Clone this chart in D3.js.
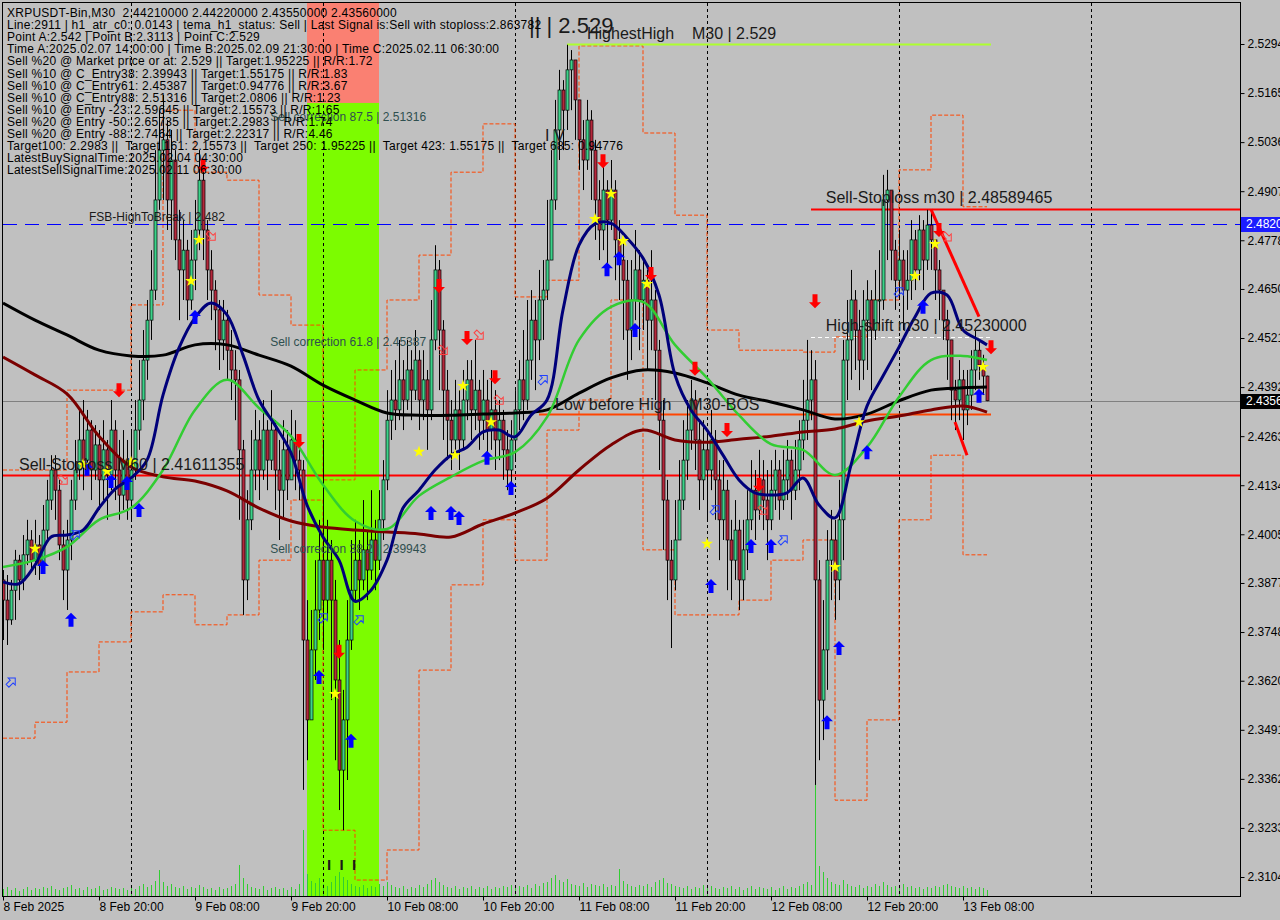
<!DOCTYPE html>
<html>
<head>
<meta charset="utf-8">
<script src="https://cdn.jsdelivr.net/npm/d3@7/dist/d3.min.js"></script>
<style>
  body { margin: 0; background: #c0c0c0; overflow: hidden; }
  svg { display: block; font-family: "Liberation Sans", Arial, sans-serif; }
  svg text { white-space: pre; }
</style>
</head>
<body>
<svg id="chart" width="1280" height="920"></svg>
<script>
// ---------- data (XRPUSDT M30, bars from 8 Feb 08:00) ----------
const closes = [
  2.3832,2.3780,2.3858,2.3937,2.3885,2.3951,2.3990,2.3937,2.3977,2.3924,
  2.4016,2.4095,2.4174,2.4121,2.3977,2.3911,2.3990,2.4095,2.4174,2.4253,
  2.4200,2.4279,2.4174,2.4240,2.4148,2.4227,2.4161,2.4279,2.4174,2.4108,
  2.4200,2.4095,2.4174,2.4279,2.4358,2.4463,2.4568,2.4647,2.4884,2.5015,
  2.5042,2.4884,2.4989,2.4779,2.4700,2.4752,2.4621,2.4726,2.4805,2.4936,
  2.4805,2.4700,2.4647,2.4595,2.4516,2.4568,2.4489,2.4437,2.4411,2.4227,
  2.3885,2.4043,2.4174,2.4253,2.4174,2.4279,2.4200,2.4279,2.4174,2.4121,
  2.4227,2.4148,2.4253,2.4200,2.4174,2.3727,2.3517,2.3701,2.3806,2.3937,
  2.3832,2.3937,2.3832,2.3622,2.3385,2.3517,2.3727,2.3858,2.3937,2.3885,
  2.3964,2.3911,2.3990,2.3937,2.4043,2.4148,2.4305,2.4358,2.4332,2.4411,
  2.4358,2.4437,2.4384,2.4463,2.4358,2.4411,2.4332,2.4516,2.4700,2.4542,
  2.4384,2.4305,2.4253,2.4332,2.4253,2.4358,2.4411,2.4332,2.4384,2.4305,
  2.4358,2.4279,2.4332,2.4253,2.4305,2.4227,2.4174,2.4253,2.4332,2.4411,
  2.4358,2.4463,2.4568,2.4516,2.4621,2.4647,2.4726,2.4884,2.5068,2.5173,
  2.5120,2.5226,2.5252,2.5147,2.5042,2.4989,2.5094,2.5015,2.4884,2.4805,
  2.4910,2.4831,2.4910,2.4779,2.4726,2.4673,2.4542,2.4621,2.4700,2.4621,
  2.4673,2.4568,2.4621,2.4489,2.4305,2.4095,2.3937,2.3885,2.3990,2.4095,
  2.4200,2.4279,2.4358,2.4253,2.4148,2.4227,2.4174,2.4253,2.4148,2.4043,
  2.4121,2.3990,2.3937,2.4016,2.3885,2.3964,2.4043,2.4121,2.4069,2.4148,
  2.4095,2.4043,2.4121,2.4174,2.4095,2.4148,2.4200,2.4121,2.4174,2.4253,
  2.4305,2.4358,2.4411,2.3885,2.3569,2.3701,2.3937,2.3990,2.3885,2.4043,
  2.4463,2.4516,2.4621,2.4542,2.4463,2.4568,2.4621,2.4542,2.4621,2.4621,
  2.4884,2.4910,2.4752,2.4673,2.4726,2.4647,2.4673,2.4779,2.4700,2.4805,
  2.4726,2.4818,2.4779,2.4700,2.4647,2.4568,2.4516,2.4384,2.4358,2.4411,
  2.4332,2.4371,2.4437,2.4489,2.4450,2.4421,2.4356
];
const highs = [
  2.3911,2.3898,2.3885,2.3964,2.3951,2.4003,2.4043,2.4016,2.4043,2.4003,
  2.4082,2.4148,2.4213,2.4213,2.4148,2.4016,2.4043,2.4148,2.4253,2.4332,
  2.4358,2.4332,2.4305,2.4292,2.4279,2.4305,2.4253,2.4358,2.4305,2.4253,
  2.4279,2.4253,2.4279,2.4358,2.4463,2.4542,2.4621,2.4752,2.5015,2.5120,
  2.5160,2.5094,2.5068,2.5015,2.4858,2.4831,2.4779,2.4805,2.4884,2.5015,
  2.4976,2.4831,2.4752,2.4673,2.4621,2.4621,2.4595,2.4542,2.4489,2.4437,
  2.4253,2.4121,2.4279,2.4332,2.4305,2.4358,2.4305,2.4384,2.4305,2.4253,
  2.4305,2.4279,2.4332,2.4305,2.4253,2.4200,2.3832,2.3806,2.3937,2.4043,
  2.4253,2.4043,2.3990,2.3885,2.3727,2.3596,2.3832,2.3990,2.4043,2.3990,
  2.4095,2.4016,2.4121,2.4043,2.4121,2.4200,2.4384,2.4437,2.4463,2.4516,
  2.4463,2.4516,2.4489,2.4542,2.4489,2.4489,2.4437,2.4621,2.4765,2.4726,
  2.4568,2.4437,2.4358,2.4411,2.4384,2.4437,2.4463,2.4463,2.4516,2.4411,
  2.4437,2.4411,2.4437,2.4384,2.4358,2.4332,2.4279,2.4305,2.4384,2.4463,
  2.4542,2.4621,2.4647,2.4621,2.4700,2.4726,2.4884,2.5015,2.5147,2.5226,
  2.5199,2.5292,2.5278,2.5226,2.5120,2.5094,2.5147,2.5120,2.5042,2.4936,
  2.4989,2.4936,2.4989,2.4936,2.4831,2.4779,2.4726,2.4726,2.4805,2.4752,
  2.4726,2.4700,2.4752,2.4647,2.4516,2.4358,2.4148,2.3990,2.4095,2.4200,
  2.4305,2.4358,2.4411,2.4384,2.4305,2.4305,2.4279,2.4332,2.4279,2.4200,
  2.4200,2.4148,2.4043,2.4095,2.4043,2.4043,2.4121,2.4200,2.4174,2.4227,
  2.4200,2.4174,2.4200,2.4227,2.4200,2.4227,2.4253,2.4227,2.4253,2.4305,
  2.4411,2.4516,2.4489,2.4463,2.3937,2.3832,2.4016,2.4069,2.4043,2.4148,
  2.4516,2.4621,2.4700,2.4647,2.4595,2.4647,2.4673,2.4647,2.4700,2.4752,
  2.4950,2.4963,2.4884,2.4779,2.4805,2.4752,2.4752,2.4831,2.4805,2.4844,
  2.4831,2.4858,2.4853,2.4779,2.4726,2.4647,2.4595,2.4516,2.4411,2.4463,
  2.4437,2.4437,2.4489,2.4542,2.4516,2.4477,2.4422
];
const lows = [
  2.3727,2.3714,2.3767,2.3780,2.3832,2.3858,2.3924,2.3911,2.3898,2.3885,
  2.3911,2.3990,2.4069,2.4043,2.3937,2.3832,2.3806,2.3937,2.4069,2.4148,
  2.4121,2.4174,2.4095,2.4148,2.4069,2.4095,2.4043,2.4121,2.4095,2.4043,
  2.4069,2.4043,2.4043,2.4148,2.4227,2.4305,2.4411,2.4516,2.4621,2.4858,
  2.4884,2.4805,2.4779,2.4726,2.4568,2.4621,2.4568,2.4595,2.4647,2.4752,
  2.4726,2.4621,2.4568,2.4489,2.4437,2.4463,2.4411,2.4358,2.4305,2.4043,
  2.3793,2.3832,2.4016,2.4121,2.4095,2.4148,2.4121,2.4174,2.4069,2.3990,
  2.4043,2.4095,2.4148,2.4121,2.4095,2.3333,2.3411,2.3517,2.3622,2.3727,
  2.3701,2.3780,2.3569,2.3411,2.3280,2.3227,2.3359,2.3701,2.3832,2.3806,
  2.3858,2.3832,2.3885,2.3858,2.3911,2.3990,2.4121,2.4253,2.4279,2.4305,
  2.4279,2.4332,2.4305,2.4358,2.4279,2.4305,2.4227,2.4305,2.4489,2.4384,
  2.4253,2.4200,2.4174,2.4227,2.4174,2.4227,2.4305,2.4253,2.4279,2.4227,
  2.4253,2.4200,2.4227,2.4174,2.4200,2.4148,2.4121,2.4121,2.4200,2.4279,
  2.4305,2.4332,2.4411,2.4384,2.4463,2.4516,2.4621,2.4779,2.4858,2.4989,
  2.5015,2.5068,2.5120,2.5042,2.4963,2.4910,2.4963,2.4884,2.4779,2.4726,
  2.4752,2.4700,2.4805,2.4673,2.4621,2.4516,2.4411,2.4463,2.4568,2.4489,
  2.4542,2.4437,2.4489,2.4358,2.4174,2.3964,2.3832,2.3706,2.3858,2.3990,
  2.4069,2.4148,2.4227,2.4174,2.4069,2.4095,2.4043,2.4121,2.4043,2.3937,
  2.3990,2.3858,2.3832,2.3885,2.3806,2.3832,2.3911,2.4016,2.3990,2.4043,
  2.4016,2.3937,2.4016,2.4069,2.4043,2.4069,2.4095,2.4043,2.4095,2.4121,
  2.4200,2.4253,2.4305,2.3346,2.3411,2.3464,2.3596,2.3832,2.3780,2.3832,
  2.3937,2.4358,2.4411,2.4437,2.4384,2.4411,2.4437,2.4384,2.4516,2.4542,
  2.4595,2.4726,2.4673,2.4595,2.4621,2.4542,2.4595,2.4621,2.4647,2.4673,
  2.4647,2.4700,2.4700,2.4621,2.4568,2.4516,2.4411,2.4305,2.4279,2.4305,
  2.4253,2.4292,2.4332,2.4384,2.4411,2.4371,2.4355
];
const firstOpen = 2.3885;
const volumes = [
  7,9,6,8,5,7,9,6,8,7, 9,8,10,7,6,8,9,11,7,8, 6,9,7,8,10,6,7,9,8,7,
  8,6,9,7,10,12,9,11,15,26, 14,10,12,9,8,10,7,9,8,11, 9,7,8,6,9,7,8,10,12,31,
  18,12,9,8,7,10,6,8,9,7, 8,6,9,7,12,66,22,15,13,18, 12,10,14,20,24,19,16,12,10,9,
  11,8,10,9,12,10,14,11,9,8, 10,7,9,8,11,9,12,16,18,14, 11,9,8,10,7,9,8,10,7,9,
  8,10,7,9,8,10,9,11,8,10, 9,11,8,12,10,13,14,18,21,16, 14,17,12,11,10,13,9,12,11,10,
  12,9,11,10,27,15,12,10,9,11, 10,12,9,14,16,18,13,12,10,9, 8,10,7,9,8,11,9,10,8,7,
  9,8,10,7,9,6,8,10,7,9, 8,7,9,6,8,10,7,9,8,10, 12,14,11,112,30,24,18,14,12,11,
  16,12,10,9,11,8,10,9,12,10, 14,11,9,10,8,12,9,10,8,9, 7,9,8,10,9,11,12,10,9,8,
  10,8,9,7,9,8,6
];

// moving averages, one reading every 8 bars (last one at bar 246)
const maSlowBlack = [2.4613,2.4568,2.4529,2.4489,2.4474,2.4476,2.4503,2.4503,2.4476,2.4447,2.4397,2.4358,
  2.4324,2.4318,2.4318,2.4321,2.4324,2.4332,2.4376,2.4416,2.4437,2.4429,2.4403,2.4371,2.4353,2.4332,
  2.4308,2.4321,2.4356,2.4384,2.4390,2.4392];
const maSlowMaroon = [2.4471,2.4424,2.4374,2.4263,2.4182,2.4156,2.4145,2.4119,2.4074,2.4040,2.4024,2.4016,
  2.4011,2.4006,2.3998,2.4032,2.4061,2.4100,2.4174,2.4240,2.4279,2.4253,2.4247,2.4255,2.4263,2.4274,
  2.4282,2.4303,2.4316,2.4332,2.4342,2.4326];
const maMidGreen = [2.3919,2.3937,2.3972,2.4043,2.4074,2.4174,2.4332,2.4411,2.4337,2.4263,2.4135,2.4040,
  2.4019,2.4106,2.4156,2.4198,2.4221,2.4313,2.4516,2.4603,2.4616,2.4503,2.4416,2.4318,2.4242,2.4227,
  2.4161,2.4234,2.4366,2.4463,2.4474,2.4463];
// fast average, one reading every 4 bars (last one at bar 246)
const maFastNavy = [2.3880,2.3875,2.3924,2.3998,2.4003,2.4016,2.4074,2.4124,2.4153,2.4200,2.4371,2.4495,
  2.4574,2.4613,2.4582,2.4476,2.4358,2.4292,2.4219,2.4082,2.3998,2.3937,2.3829,2.3858,2.3937,2.4074,
  2.4121,2.4174,2.4213,2.4234,2.4274,2.4279,2.4261,2.4318,2.4358,2.4595,2.4765,2.4821,2.4823,2.4784,
  2.4731,2.4634,2.4424,2.4332,2.4279,2.4213,2.4148,2.4114,2.4108,2.4114,2.4153,2.4082,2.4048,2.4187,
  2.4342,2.4421,2.4497,2.4576,2.4639,2.4634,2.4542,2.4516,2.4503];
// dashed channel (step lines), one reading every 8 bars
const bandUpper = [2.4174,2.4174,2.4384,2.4384,2.4608,2.5120,2.4957,2.4936,2.4634,2.4555,2.4148,2.4437,
  2.4621,2.4739,2.4957,2.5084,2.4629,2.4673,2.5289,2.5289,2.5060,2.4844,2.4542,2.4489,2.4489,2.4484,
  2.4524,2.4621,2.4963,2.5107,2.4866,2.4866];
const bandLower = [2.3469,2.3511,2.3643,2.3722,2.3801,2.3846,2.3767,2.3793,2.3937,2.4095,2.3227,2.3096,
  2.3175,2.3648,2.3872,2.4043,2.3937,2.4279,2.4358,2.4621,2.3964,2.3793,2.3793,2.3832,2.3937,2.3990,
  2.3306,2.3517,2.4043,2.4213,2.3951,2.3951];

// signals [bar, price]
const buyArrows = [[10,2.3919],[17,2.3780],[21,2.4177],[27,2.4145],[31,2.4140],[34,2.4069],[48,2.4576],
  [79,2.3630],[87,2.3462],[107,2.4061],[112,2.4061],[114,2.4048],[121,2.4206],[127,2.4127],[151,2.4702],
  [154,2.4731],[158,2.4542],[177,2.3869],[187,2.3974],[192,2.3974],[206,2.3511],[209,2.3706],[216,2.4221],
  [230,2.4603],[244,2.4369]];
const sellArrows = [[29,2.4384],[50,2.4974],[74,2.4250],[84,2.3696],[109,2.4658],[116,2.4521],[123,2.4418],
  [150,2.4986],[162,2.4689],[173,2.4440],[181,2.4279],[189,2.4135],[203,2.4618],[234,2.4805],[247,2.4497]];
const stars = [[8,2.3967],[20,2.4188],[26,2.4171],[32,2.4195],[47,2.4671],[49,2.4779],[83,2.3585],
  [104,2.4222],[113,2.4213],[115,2.4395],[122,2.4300],[148,2.4834],[152,2.4900],[155,2.4776],[161,2.4663],
  [176,2.3980],[208,2.3919],[214,2.4300],[228,2.4684],[233,2.4768],[245,2.4445]];
const hollowBuy = [[2,2.3616],[18,2.4003],[80,2.3785],[89,2.3780],[135,2.4411],[178,2.4069],[195,2.3990],[224,2.4642]];
const hollowSell = [[15,2.4148],[52,2.4789],[110,2.4489],[119,2.4529],[124,2.4358],[190,2.4069],[236,2.4787]];

// levels
const sellStopM60 = 2.41611355, sellStopM30 = 2.48589465, highShift = 2.4523, highestHigh = 2.5294;
const fsbHigh = 2.482, lowBeforeHigh = 2.4321, lastPrice = 2.4356;
const zoneBars = [76, 94], zoneSplit = 2.5139;
const trendDown = [[232,2.4859],[244,2.4577]], trendDown2 = [[238,2.4300],[241,2.4213]];

const timeTicks = [0,24,48,72,96,120,144,168,192,216,240];
const timeLabels = ["8 Feb 2025","8 Feb 20:00","9 Feb 08:00","9 Feb 20:00","10 Feb 08:00","10 Feb 20:00",
  "11 Feb 08:00","11 Feb 20:00","12 Feb 08:00","12 Feb 20:00","13 Feb 08:00"];
const daySeparators = [32,80,128,176,224,272];
const priceTicks = [2.5294,2.5165,2.5036,2.4907,2.4778,2.4650,2.4521,2.4392,2.4263,2.4134,2.4005,2.3877,
  2.3748,2.3620,2.3491,2.3362,2.3233,2.3104];

const infoLines = [
  "XRPUSDT-Bin,M30  2.44210000 2.44220000 2.43550000 2.43560000",
  "Line:2911 | h1_atr_c0: 0.0143 | tema_h1_status: Sell | Last Signal is:Sell with stoploss:2.863782",
  "Point A:2.542 | Point B:2.3113 | Point C:2.529",
  "Time A:2025.02.07 14:00:00 | Time B:2025.02.09 21:30:00 | Time C:2025.02.11 06:30:00",
  "Sell %20 @ Market price or at: 2.529 || Target:1.95225 || R/R:1.72",
  "Sell %10 @ C_Entry38: 2.39943 || Target:1.55175 || R/R:1.83",
  "Sell %10 @ C_Entry61: 2.45387 || Target:0.94776 || R/R:3.67",
  "Sell %10 @ C_Entry88: 2.51316 || Target:2.0806 || R/R:1.23",
  "Sell %10 @ Entry -23: 2.59645 || Target:2.15573 || R/R:1.65",
  "Sell %20 @ Entry -50: 2.65735 || Target:2.2983 || R/R:1.74",
  "Sell %20 @ Entry -88: 2.7464 || Target:2.22317 || R/R:4.46",
  "Target100: 2.2983 ||  Target 161: 2.15573 ||  Target 250: 1.95225 ||  Target 423: 1.55175 ||  Target 685: 0.94776",
  "LatestBuySignalTime:2025.02.04 04:30:00",
  "LatestSellSignalTime:2025.02.11 06:30:00"
];
const corrections = [["Sell correction 87.5 | 2.51316", 2.51316], ["Sell correction 61.8 | 2.45387", 2.45387],
  ["Sell correction 38.2 | 2.39943", 2.39943]];

// ---------- drawing ----------
const plot = { left: 3, right: 1240, top: 3, bottom: 896 };
const svg = d3.select("#chart");
const x = d3.scaleLinear().domain([0, 309.25]).range([plot.left, plot.right]);
const y = d3.scaleLinear().domain([2.3104, 2.5294]).range([877, 44]);
const vol = d3.scaleLinear().domain([0, 112]).range([plot.bottom, plot.bottom - 112]);

svg.append("rect").attr("width", 1280).attr("height", 920).attr("fill", "#c0c0c0");
svg.append("clipPath").attr("id", "clip").append("rect")
  .attr("x", plot.left).attr("y", plot.top)
  .attr("width", plot.right - plot.left).attr("height", plot.bottom - plot.top);
const g = svg.append("g").attr("clip-path", "url(#clip)");

// signal zone (red above, green below)
g.append("rect").attr("x", x(zoneBars[0])).attr("width", x(zoneBars[1]) - x(zoneBars[0]))
  .attr("y", plot.top).attr("height", y(zoneSplit) - plot.top).attr("fill", "#fa8072");
g.append("rect").attr("x", x(zoneBars[0])).attr("width", x(zoneBars[1]) - x(zoneBars[0]))
  .attr("y", y(zoneSplit)).attr("height", plot.bottom - y(zoneSplit)).attr("fill", "#7cfc00");

// volumes
g.append("g").selectAll("line").data(volumes).join("line")
  .attr("x1", (d, i) => Math.round(x(i)) + 0.5).attr("x2", (d, i) => Math.round(x(i)) + 0.5)
  .attr("y1", plot.bottom).attr("y2", d => vol(d))
  .attr("stroke", "#32cd32").attr("stroke-width", 1);

// day separators
g.append("g").selectAll("line").data(daySeparators).join("line")
  .attr("x1", d => x(d) + 0.5).attr("x2", d => x(d) + 0.5)
  .attr("y1", plot.top).attr("y2", plot.bottom)
  .attr("stroke", "#000").attr("stroke-dasharray", "3,3");

// dashed channel
const idx8 = d3.range(0, 241, 8).concat([246]);
const idx4 = d3.range(0, 245, 4).concat([246]);
const stepLine = d3.line().curve(d3.curveStepAfter).x(d => x(d[0])).y(d => y(d[1]));
[bandUpper, bandLower].forEach(band => {
  g.append("path").attr("d", stepLine(band.map((v, k) => [idx8[k], v])))
    .attr("fill", "none").attr("stroke", "#ff4500").attr("stroke-width", 1).attr("stroke-dasharray", "4,2");
});

// horizontal levels
function hline(price, i0, i1, color, width, dash) {
  g.append("line").attr("x1", i0 == null ? plot.left : x(i0)).attr("x2", i1 == null ? plot.right : x(i1))
    .attr("y1", Math.round(y(price)) + 0.5).attr("y2", Math.round(y(price)) + 0.5)
    .attr("stroke", color).attr("stroke-width", width).attr("stroke-dasharray", dash || null);
}
hline(lastPrice, null, null, "#808080", 1);
hline(fsbHigh, null, null, "#0000ff", 1, "14,8");
hline(sellStopM60, null, null, "#ff0000", 2);
hline(sellStopM30, 202, null, "#ff0000", 2);
hline(highShift, 202, 247, "#ffffff", 1, "4,3");
hline(highestHigh, 141, 247, "#adff2f", 2);
hline(lowBeforeHigh, 134, 247, "#ff4500", 2);

// moving averages
const smooth = d3.line().curve(d3.curveCatmullRom).x(d => x(d[0])).y(d => y(d[1]));
const maLayer = g.append("g").attr("fill", "none").attr("stroke-linejoin", "round");
maLayer.append("path").attr("d", smooth(maSlowMaroon.map((v, k) => [idx8[k], v])))
  .attr("stroke", "#7a0000").attr("stroke-width", 3);
maLayer.append("path").attr("d", smooth(maSlowBlack.map((v, k) => [idx8[k], v])))
  .attr("stroke", "#000").attr("stroke-width", 3);

// candles
const candles = closes.map((c, i) => ({ i, o: i ? closes[i - 1] : firstOpen, h: highs[i], l: lows[i], c }));
const cg = g.append("g").selectAll("g").data(candles).join("g");
cg.append("line")
  .attr("x1", d => Math.round(x(d.i)) + 0.5).attr("x2", d => Math.round(x(d.i)) + 0.5)
  .attr("y1", d => y(Math.max(d.h, d.o, d.c))).attr("y2", d => y(Math.min(d.l, d.o, d.c)))
  .attr("stroke", "#000");
cg.append("rect")
  .attr("x", d => Math.round(x(d.i)) - 1).attr("width", 3)
  .attr("y", d => y(Math.max(d.o, d.c)))
  .attr("height", d => Math.max(1, Math.abs(y(d.o) - y(d.c))))
  .attr("fill", d => d.c >= d.o ? "#3cd38a" : "#b5283c")
  .attr("stroke", "#000").attr("stroke-width", 0.7);

maLayer.raise();
maLayer.append("path").attr("d", smooth(maMidGreen.map((v, k) => [idx8[k], v])))
  .attr("stroke", "#32cd32").attr("stroke-width", 2.5);
maLayer.append("path").attr("d", smooth(maFastNavy.map((v, k) => [idx4[k], v])))
  .attr("stroke", "#00007a").attr("stroke-width", 3);

// trend segments
[trendDown, trendDown2].forEach(seg => {
  g.append("line").attr("x1", x(seg[0][0])).attr("y1", y(seg[0][1]))
    .attr("x2", x(seg[1][0])).attr("y2", y(seg[1][1]))
    .attr("stroke", "#ff0000").attr("stroke-width", 3);
});

// signals
const upArrow = "M0,-7L6,-1L2.5,-1L2.5,7L-2.5,7L-2.5,-1L-6,-1Z";
g.append("g").selectAll("path").data(buyArrows).join("path")
  .attr("d", upArrow).attr("transform", d => `translate(${x(d[0])},${y(d[1])})`).attr("fill", "#0000ff");
g.append("g").selectAll("path").data(sellArrows).join("path")
  .attr("d", upArrow).attr("transform", d => `translate(${x(d[0])},${y(d[1])}) rotate(180)`).attr("fill", "#ff0000");
g.append("g").selectAll("path").data(stars).join("path")
  .attr("d", d3.symbol(d3.symbolStar, 45)).attr("transform", d => `translate(${x(d[0])},${y(d[1])})`)
  .attr("fill", "#ffff00");
const hollow = "M-5,-2L1,-2L1,-5L6,0L1,5L1,2L-5,2Z";
g.append("g").selectAll("path").data(hollowBuy).join("path")
  .attr("d", hollow).attr("transform", d => `translate(${x(d[0])},${y(d[1])}) rotate(-45)`)
  .attr("fill", "none").attr("stroke", "#2040ff").attr("stroke-width", 1);
g.append("g").selectAll("path").data(hollowSell).join("path")
  .attr("d", hollow).attr("transform", d => `translate(${x(d[0])},${y(d[1])}) rotate(45)`)
  .attr("fill", "none").attr("stroke", "#ff4040").attr("stroke-width", 1);

// chart labels
const labels = g.append("g").attr("fill", "#1a1a1a");
labels.append("text").attr("x", x(4)).attr("y", y(sellStopM60) - 5).attr("font-size", 16)
  .text("Sell-Stoploss M60 | 2.41611355");
labels.append("text").attr("x", x(205.7)).attr("y", y(sellStopM30) - 6).attr("font-size", 16)
  .text("Sell-Stoploss m30 | 2.48589465");
labels.append("text").attr("x", x(205.7)).attr("y", y(highShift) - 6).attr("font-size", 16)
  .text("High-shift m30 | 2.45230000");
labels.append("text").attr("x", x(146)).attr("y", y(highestHigh) - 5).attr("font-size", 16)
  .text("HighestHigh    M30 | 2.529");
labels.append("text").attr("x", x(131.5)).attr("y", y(highestHigh) - 11).attr("font-size", 22)
  .text("|| | 2.529");
labels.append("text").attr("x", x(138)).attr("y", y(lowBeforeHigh) - 4).attr("font-size", 16)
  .text("Low before High    M30-BOS");
labels.append("text").attr("x", x(21.5)).attr("y", y(fsbHigh) - 3).attr("font-size", 12)
  .text("FSB-HighToBreak | 2.482");
labels.append("text").attr("x", x(135.5)).attr("y", y(2.5039)).attr("font-size", 16).text("I V");
labels.append("text").attr("x", x(81)).attr("y", y(2.3122)).attr("font-size", 15).attr("font-weight", "bold")
  .text("I  I  I");
labels.append("g").selectAll("text").data(corrections).join("text")
  .attr("x", x(66.8)).attr("y", d => y(d[1]) + 15).attr("font-size", 12).attr("fill", "#2f4f4f")
  .text(d => d[0]);

// info block
svg.append("g").selectAll("text").data(infoLines).join("text")
  .attr("x", 7).attr("y", (d, k) => 17 + k * 12.1).attr("font-size", 12).attr("fill", "#000")
  .attr("letter-spacing", 0.25)
  .text(d => d);

// frame
svg.append("rect").attr("x", plot.left - 0.5).attr("y", plot.top - 0.5)
  .attr("width", plot.right - plot.left + 1).attr("height", plot.bottom - plot.top + 1)
  .attr("fill", "none").attr("stroke", "#000");

// price axis
const yAxis = d3.axisRight(y).tickValues(priceTicks).tickFormat(d3.format(".4f")).tickSize(4).tickPadding(3);
const ya = svg.append("g").attr("transform", `translate(${plot.right + 0.5},0)`).call(yAxis);
ya.select(".domain").remove();
ya.selectAll("text").attr("font-size", 12).attr("font-family", "Liberation Sans, Arial, sans-serif").attr("fill", "#000");

// price tags
function tag(price, bg) {
  const t = svg.append("g").attr("transform", `translate(${plot.right + 1},${Math.round(y(price))})`);
  t.append("rect").attr("x", 0).attr("y", -7).attr("width", 40).attr("height", 15).attr("fill", bg);
  t.append("text").attr("x", 5).attr("y", 4).attr("font-size", 12).attr("fill", "#fff")
    .text(price.toFixed(4));
}
tag(fsbHigh, "#1c1cff");
tag(lastPrice, "#000");

// time axis
const xAxis = d3.axisBottom(x).tickValues(timeTicks).tickFormat((d, k) => timeLabels[k]).tickSize(4).tickPadding(2);
const xa = svg.append("g").attr("transform", `translate(0,${plot.bottom + 0.5})`).call(xAxis);
xa.select(".domain").remove();
xa.selectAll("text").attr("text-anchor", "start").attr("font-size", 12)
  .attr("font-family", "Liberation Sans, Arial, sans-serif").attr("fill", "#000");
</script>
</body>
</html>
